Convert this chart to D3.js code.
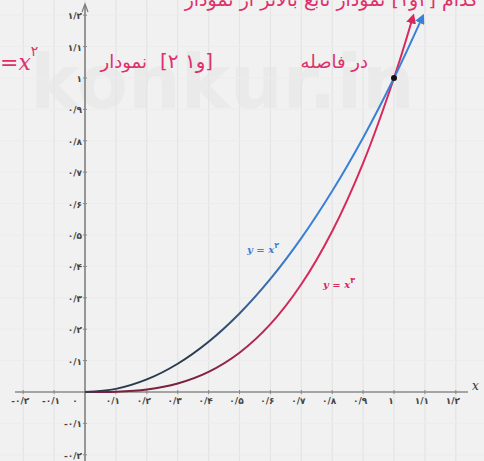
<!DOCTYPE html>
<html><head><meta charset="utf-8">
<script src="https://cdn.jsdelivr.net/npm/d3@7"></script>
<style>html,body{margin:0;padding:0;background:#f1f1f1;overflow:hidden}</style>
</head><body>
<script>
const xTicks = [-0.2,-0.1,0,0.1,0.2,0.3,0.4,0.5,0.6,0.7,0.8,0.9,1,1.1,1.2];
const xTickLabels = ["-۰/۲","-۰/۱","۰","۰/۱","۰/۲","۰/۳","۰/۴","۰/۵","۰/۶","۰/۷","۰/۸","۰/۹","۱","۱/۱","۱/۲"];
const yTicks = [-0.2,-0.1,0.1,0.2,0.3,0.4,0.5,0.6,0.7,0.8,0.9,1,1.1,1.2];
const yTickLabels = ["-۰/۲","-۰/۱","۰/۱","۰/۲","۰/۳","۰/۴","۰/۵","۰/۶","۰/۷","۰/۸","۰/۹","۱","۱/۱","۱/۲"];
// y = x^2 (blue)
const sqX = [0,0.1,0.2,0.3,0.4,0.5,0.6,0.7,0.8,0.9,1.0,1.09];
const sqY = [0,0.01,0.04,0.09,0.16,0.25,0.36,0.49,0.64,0.81,1.0,1.19];
// y = x^3 (red)
const cuX = [0,0.1,0.2,0.3,0.4,0.5,0.6,0.7,0.8,0.9,1.0,1.06];
const cuY = [0,0.001,0.008,0.027,0.064,0.125,0.216,0.343,0.512,0.729,1.0,1.19];
const intersect = [[1,1]];

const W=484,H=461;
const svg=d3.select("body").append("svg").attr("width",W).attr("height",H);
svg.append("rect").attr("width",W).attr("height",H).attr("fill","#f1f1f1");

const x=d3.scaleLinear().domain([0,1]).range([85,394]);
const y=d3.scaleLinear().domain([0,1]).range([392,78]);

// watermark
svg.append("text").attr("x",30).attr("y",108).attr("font-family","DejaVu Sans").attr("font-weight","bold")
  .attr("font-size",74).attr("fill","#eaeaea").text("konkur.in");

// grid
svg.append("g").selectAll("line").data(xTicks).join("line")
  .attr("x1",d=>x(d)).attr("x2",d=>x(d)).attr("y1",0).attr("y2",H)
  .attr("stroke","#e4e4e4").attr("stroke-width",1.2);
svg.append("g").selectAll("line").data(yTicks).join("line")
  .attr("y1",d=>y(d)).attr("y2",d=>y(d)).attr("x1",0).attr("x2",W)
  .attr("stroke","#ececec").attr("stroke-width",1);

// axes
svg.append("line").attr("x1",15).attr("x2",468).attr("y1",y(0)).attr("y2",y(0)).attr("stroke","#8a8a8a").attr("stroke-width",1.5);
svg.append("line").attr("x1",x(0)).attr("x2",x(0)).attr("y1",5).attr("y2",H).attr("stroke","#7a7a7a").attr("stroke-width",1.5);
svg.append("path").attr("d",`M${x(0)-3},12 L${x(0)},4 L${x(0)+3},12`).attr("fill","none").attr("stroke","#7a7a7a").attr("stroke-width",1.2);

// tick marks
svg.append("g").selectAll("line").data(xTicks.filter(d=>d!==0)).join("line")
  .attr("x1",d=>x(d)).attr("x2",d=>x(d)).attr("y1",y(0)-2).attr("y2",y(0)+2).attr("stroke","#8a8a8a");
svg.append("g").selectAll("line").data(yTicks).join("line")
  .attr("y1",d=>y(d)).attr("y2",d=>y(d)).attr("x1",x(0)-2).attr("x2",x(0)+2).attr("stroke","#8a8a8a");

const lblFont="DejaVu Sans";
svg.append("g").selectAll("text").data(xTicks).join("text")
  .attr("x",(d,i)=>d===0?x(d)-10:x(d)-3).attr("y",y(0)+12).attr("text-anchor","middle")
  .attr("font-family",lblFont).attr("font-size",9).attr("font-weight","bold").attr("fill","#444").attr("direction","ltr")
  .text((d,i)=>xTickLabels[i]);
svg.append("g").selectAll("text").data(yTicks).join("text")
  .attr("x",x(0)-3).attr("y",d=>y(d)+4).attr("text-anchor","end")
  .attr("font-family",lblFont).attr("font-size",9).attr("font-weight","bold").attr("fill","#444").attr("direction","ltr")
  .text((d,i)=>yTickLabels[i]);
svg.append("text").attr("x",472).attr("y",y(0)-2).attr("font-family","DejaVu Serif").attr("font-style","italic")
  .attr("font-size",12).attr("fill","#333").text("x");

// gradients & markers
const defs=svg.append("defs");
function grad(id,dark,bright){
  const g=defs.append("linearGradient").attr("id",id).attr("gradientUnits","userSpaceOnUse")
    .attr("x1",x(0)).attr("y1",0).attr("x2",x(0.8)).attr("y2",0);
  g.append("stop").attr("offset","0").attr("stop-color",dark);
  g.append("stop").attr("offset","0.45").attr("stop-color",dark);
  g.append("stop").attr("offset","0.85").attr("stop-color",bright);
  g.append("stop").attr("offset","1").attr("stop-color",bright);
}
grad("gBlue","#2b3b4e","#3a80d6");
grad("gRed","#7a2040","#d62a5c");
function marker(id,c){
  defs.append("marker").attr("id",id).attr("viewBox","0 0 10 10").attr("refX",5).attr("refY",5)
    .attr("markerWidth",5).attr("markerHeight",5).attr("orient","auto")
    .append("path").attr("d","M0,0 L10,5 L0,10 Z").attr("fill",c);
}
marker("mBlue","#3a80d6");marker("mRed","#d62a5c");

const line=d3.line().x(d=>x(d[0])).y(d=>y(d[1])).curve(d3.curveCatmullRom);
svg.append("path").datum(cuX.map((v,i)=>[v,cuY[i]])).attr("d",line).attr("fill","none")
  .attr("stroke","url(#gRed)").attr("stroke-width",2).attr("marker-end","url(#mRed)");
svg.append("path").datum(sqX.map((v,i)=>[v,sqY[i]])).attr("d",line).attr("fill","none")
  .attr("stroke","url(#gBlue)").attr("stroke-width",2).attr("marker-end","url(#mBlue)");
svg.selectAll("circle.pt").data(intersect).join("circle").attr("class","pt")
  .attr("cx",d=>x(d[0])).attr("cy",d=>y(d[1])).attr("r",3).attr("fill","#111");

// curve labels
function curveLabel(px,py,col,exp){
  const t=svg.append("text").attr("x",px).attr("y",py).attr("font-family","DejaVu Serif").attr("font-style","italic")
    .attr("font-size",10).attr("fill",col).attr("font-weight","bold");
  t.append("tspan").text("y = x");
  t.append("tspan").attr("dy",-5).attr("font-size",8).attr("font-style","normal").attr("font-family","DejaVu Sans").text(exp);
}
curveLabel(247,253,"#3a80d6","۲");
curveLabel(323,288,"#d62a5c","۳");

// handwritten red notes
const red="#e0306a";
svg.append("text").attr("x",478).attr("y",6).attr("text-anchor","start").attr("direction","rtl")
  .attr("font-family","DejaVu Sans").attr("font-size",19).attr("fill",red)
  .text("کدام [۲و۱] نمودار تابع بالاتر از نمودار");
svg.append("text").attr("x",368).attr("y",68).attr("text-anchor","start").attr("direction","rtl")
  .attr("font-family","DejaVu Sans").attr("font-size",18).attr("fill",red)
  .text("در فاصله");
svg.append("text").attr("x",160).attr("y",68).attr("text-anchor","start").attr("direction","ltr")
  .attr("font-family","DejaVu Sans").attr("font-size",20).attr("letter-spacing",3).attr("fill",red)
  .text("[۲ و۱]");
svg.append("text").attr("x",147).attr("y",68).attr("text-anchor","start").attr("direction","rtl")
  .attr("font-family","DejaVu Sans").attr("font-size",18).attr("fill",red)
  .text("نمودار");
const eq=svg.append("text").attr("x",0).attr("y",70).attr("font-family","DejaVu Serif").attr("font-style","italic")
  .attr("font-size",22).attr("fill",red);
eq.append("tspan").text("=x");
eq.append("tspan").attr("dy",-14).attr("font-size",14).attr("font-style","normal").attr("font-family","DejaVu Sans").text("۲");
</script>
</body></html>
